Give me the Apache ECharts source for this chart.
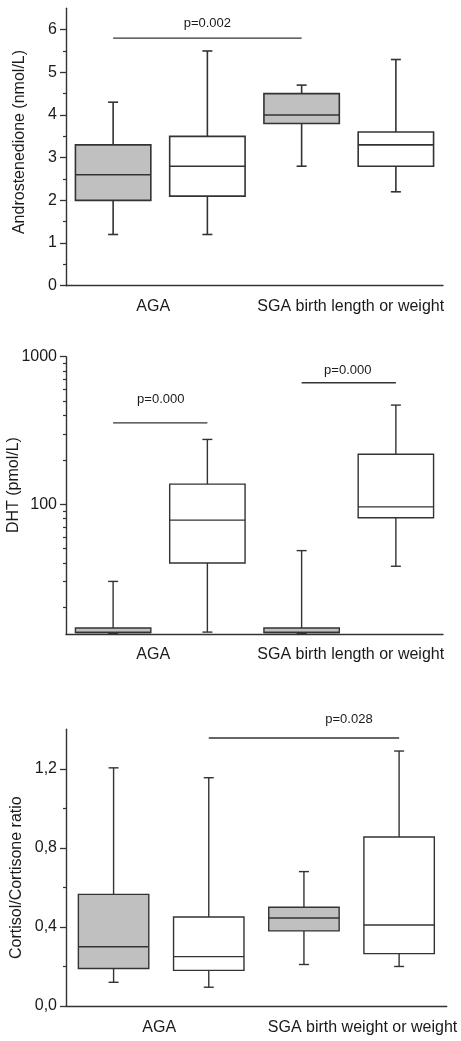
<!DOCTYPE html>
<html>
<head>
<meta charset="utf-8">
<script src="https://cdn.jsdelivr.net/npm/echarts@6/dist/echarts.min.js"></script>
<style>
  html, body { margin: 0; padding: 0; background: #fff; }
  #chart { width: 461px; height: 1041px; }
</style>
</head>
<body>
<div id="chart"></div>
<script>
// ---- data -------------------------------------------------------------
// four boxes per panel, two per group
const boxSlots = ['1', '2', '3', '4'];
const groupsLength = ['AGA', 'SGA birth length or weight'];
const groupsWeight = ['AGA', 'SGA birth weight or weight'];

// each box: [lower whisker, Q1, median, Q3, upper whisker]
const androstenedione = [
  [1.2, 2.0, 2.6, 3.3, 4.3],
  [1.2, 2.1, 2.8, 3.5, 5.5],
  [2.8, 3.8, 4.0, 4.5, 4.7],
  [2.2, 2.8, 3.3, 3.6, 5.3]
];
const dht = [
  [13.3, 13.5, 13.5, 14.5, 30],
  [13.6, 40, 78, 137, 275],
  [13.3, 13.5, 13.5, 14.5, 48.5],
  [38, 81, 96, 218, 470]
];
const cortisolRatio = [
  [0.12, 0.19, 0.30, 0.565, 1.205],
  [0.095, 0.18, 0.25, 0.45, 1.155],
  [0.21, 0.38, 0.445, 0.50, 0.68],
  [0.20, 0.265, 0.41, 0.855, 1.29]
];

// significance brackets: [from box, to box, level]
const androSig = [[0, 2, 5.8]];
const androSigLabels = ['p=0.002'];
const dhtSig = [[0, 1, 356], [2, 3, 666]];
const dhtSigLabels = ['p=0.000', 'p=0.000'];
const ratioSig = [[1, 3, 1.356]];
const ratioSigLabels = ['p=0.028'];

// axis ticks
const androTicks = [0, 1, 2, 3, 4, 5, 6];
const androMinor = [0.5, 1.5, 2.5, 3.5, 4.5, 5.5];
const dhtTicks = [100, 1000];
const dhtMinor = [20, 30, 40, 50, 60, 70, 80, 90, 200, 300, 400, 500, 600, 700, 800, 900];
const ratioTicks = [0, 0.4, 0.8, 1.2];
const ratioMinor = [0.2, 0.6, 1.0];

// ---- styling ----------------------------------------------------------
const FONT = '"Liberation Sans", Arial, Helvetica, sans-serif';
const INK = '#333333';
const TEXT = '#1a1a1a';
const SHADE = '#c0c0c0';
const boxFills = [SHADE, '#ffffff', SHADE, '#ffffff'];

const panels = [
  {
    grid: { left: 66, right: 18, top: 8.3, height: 277.4 },
    axisType: 'value', min: 0, max: 6.5,
    ticks: androTicks, minor: androMinor, fmt: v => String(v),
    name: 'Androstenedione (nmol/L)', nameGap: 38, namePad: [0, 0, 0, 10],
    groups: groupsLength, groupPad: [[0, 14, 0, 0], [0, 0, 0, 4]], labelMargin: 13,
    boxes: androstenedione, boxRatio: 0.8, lineWidth: 1.6,
    sig: androSig, sigLabels: androSigLabels, sigOffsets: [[0, -14.7]]
  },
  {
    grid: { left: 66, right: 18, top: 356.7, height: 277.8 },
    axisType: 'log', min: 13.1, max: 1000,
    ticks: dhtTicks, minor: dhtMinor, fmt: v => String(v),
    name: 'DHT (pmol/L)', nameGap: 44, namePad: [0, 0, 0, 21],
    groups: groupsLength, groupPad: [[0, 14, 0, 0], [0, 0, 0, 4]], labelMargin: 12,
    boxes: dht, boxRatio: 0.8, lineWidth: 1.4,
    sig: dhtSig, sigLabels: dhtSigLabels, sigOffsets: [[0.5, -23], [-1, -12]]
  },
  {
    grid: { left: 66, right: 14.3, top: 729.3, height: 276.7 },
    axisType: 'value', min: 0, max: 1.4,
    ticks: ratioTicks, minor: ratioMinor, fmt: v => v.toFixed(1).replace('.', ','),
    name: 'Cortisol/Cortisone ratio', nameGap: 41, namePad: [0, 20, 0, 0],
    groups: groupsWeight, groupPad: [[0, 4, 0, 0], [0, 0, 0, 22]], labelMargin: 14,
    boxes: cortisolRatio, boxRatio: 0.74, lineWidth: 1.4,
    sig: ratioSig, sigLabels: ratioSigLabels, sigOffsets: [[45, -19]]
  }
];

// ---- renderers --------------------------------------------------------
function boxRenderer(p) {
  return function (params, api) {
    const x = api.value(0);
    const c = [1, 2, 3, 4, 5].map(i => api.coord([x, api.value(i)]));
    const cx = c[0][0];
    const w = api.size([1, 0])[0] * p.boxRatio;
    const half = w / 2;
    const cap = 5;
    const ls = { stroke: INK, lineWidth: p.lineWidth };
    const seg = (x1, y1, x2, y2) => ({ type: 'line', shape: { x1, y1, x2, y2 }, style: ls });
    return {
      type: 'group',
      children: [
        seg(cx, c[4][1], cx, c[3][1]),
        seg(cx, c[0][1], cx, c[1][1]),
        seg(cx - cap, c[4][1], cx + cap, c[4][1]),
        seg(cx - cap, c[0][1], cx + cap, c[0][1]),
        {
          type: 'rect',
          shape: { x: cx - half, y: c[3][1], width: w, height: c[1][1] - c[3][1] },
          style: { fill: boxFills[params.dataIndex], stroke: INK, lineWidth: p.lineWidth }
        },
        seg(cx - half, c[2][1], cx + half, c[2][1])
      ]
    };
  };
}

function sigRenderer(p) {
  return function (params, api) {
    const a = api.coord([api.value(0), api.value(2)]);
    const b = api.coord([api.value(1), api.value(2)]);
    const off = p.sigOffsets[params.dataIndex];
    return {
      type: 'group',
      children: [
        { type: 'line', shape: { x1: a[0], y1: a[1], x2: b[0], y2: b[1] },
          style: { stroke: INK, lineWidth: 1.3 } },
        { type: 'text',
          style: { text: p.sigLabels[params.dataIndex], x: (a[0] + b[0]) / 2 + off[0], y: a[1] + off[1],
                   align: 'center', verticalAlign: 'middle', fontSize: 13, fontFamily: FONT, fill: TEXT } }
      ]
    };
  };
}

// ---- option -----------------------------------------------------------
const option = {
  animation: false,
  backgroundColor: '#ffffff',
  grid: [], xAxis: [], yAxis: [], series: []
};

panels.forEach((p, i) => {
  option.grid.push(Object.assign({ outerBoundsMode: 'none', containLabel: false }, p.grid));

  // box positions
  option.xAxis.push({
    type: 'category', gridIndex: i, data: boxSlots, position: 'bottom',
    axisLine: { lineStyle: { color: INK, width: 1.4 } },
    axisTick: { alignWithLabel: true, length: 7, lineStyle: { color: INK, width: 1.4 } },
    axisLabel: { show: false }, splitLine: { show: false }
  });
  // group captions
  option.xAxis.push({
    type: 'category', gridIndex: i, data: p.groups, position: 'bottom',
    axisLine: { show: false }, axisTick: { show: false }, splitLine: { show: false },
    axisLabel: {
      interval: 0, margin: p.labelMargin, color: TEXT, fontFamily: FONT, fontSize: 16,
      formatter: (v, idx) => '{g' + idx + '|' + v + '}',
      rich: {
        g0: { padding: p.groupPad[0], color: TEXT, fontFamily: FONT, fontSize: 16 },
        g1: { padding: p.groupPad[1], color: TEXT, fontFamily: FONT, fontSize: 16 }
      }
    }
  });

  // labelled axis
  option.yAxis.push({
    type: p.axisType, gridIndex: i, min: p.min, max: p.max, position: 'left',
    name: p.name, nameLocation: 'middle', nameGap: p.nameGap, nameMoveOverlap: false,
    nameTextStyle: { color: TEXT, fontFamily: FONT, fontSize: 16, padding: p.namePad },
    axisLine: { show: true, lineStyle: { color: INK, width: 1.4 } },
    axisTick: { show: true, length: 6, customValues: p.ticks, lineStyle: { color: INK, width: 1.3 } },
    axisLabel: { customValues: p.ticks, formatter: p.fmt, margin: 9, color: TEXT, fontFamily: FONT, fontSize: 16 },
    splitLine: { show: false }
  });
  // minor ticks
  option.yAxis.push({
    type: p.axisType, gridIndex: i, min: p.min, max: p.max, position: 'left',
    axisLine: { show: false },
    axisTick: { show: true, length: 3, customValues: p.minor, lineStyle: { color: INK, width: 1.2 } },
    axisLabel: { show: false }, splitLine: { show: false }
  });

  option.series.push({
    type: 'custom', name: 'box' + i,
    xAxisIndex: i * 2, yAxisIndex: i * 2,
    encode: { x: 0, y: [1, 2, 3, 4, 5] },
    renderItem: boxRenderer(p), clip: false,
    data: p.boxes.map((b, k) => [k].concat(b))
  });
  option.series.push({
    type: 'custom', name: 'sig' + i,
    xAxisIndex: i * 2, yAxisIndex: i * 2,
    encode: { x: 0, y: 2 },
    renderItem: sigRenderer(p), clip: false,
    data: p.sig
  });
});

const chart = echarts.init(document.getElementById('chart'), null, { renderer: 'canvas' });
chart.setOption(option);
</script>
</body>
</html>
